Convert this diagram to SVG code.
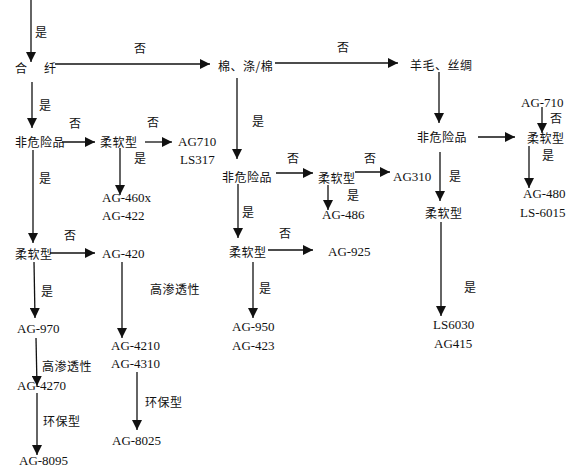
<svg xmlns="http://www.w3.org/2000/svg" width="587" height="475" viewBox="0 0 587 475">
<style>
.c{font-family:"Noto Sans CJK SC","Noto Sans CJK TC",sans-serif;font-size:12px;letter-spacing:0.5px;fill:#111}
.a{font-family:"Liberation Serif",serif;font-size:13px;fill:#111}
.l{font-family:"Noto Sans CJK SC",sans-serif;font-size:12px;fill:#111}
#edges line{stroke:#111;stroke-width:1.3;marker-end:url(#ah)}
</style>
<defs>
<marker id="ah" markerUnits="userSpaceOnUse" markerWidth="10" markerHeight="10" refX="10" refY="5" orient="auto">
<path d="M0,0 L10,5 L0,10 z" fill="#111"/>
</marker>
</defs>
<rect width="587" height="475" fill="#fff"/>
<g id="edges">
<line x1="31" y1="0" x2="31" y2="62"/>
<line x1="55" y1="64" x2="210" y2="64"/>
<line x1="275" y1="63" x2="398" y2="63"/>
<line x1="439" y1="72" x2="439" y2="123"/>
<line x1="478" y1="137" x2="515" y2="137"/>
<line x1="542" y1="107" x2="542" y2="133"/>
<line x1="529" y1="146" x2="529" y2="188"/>
<line x1="440" y1="152" x2="440" y2="201"/>
<line x1="441" y1="222" x2="441" y2="316"/>
<line x1="237" y1="78" x2="237" y2="159"/>
<line x1="276" y1="173" x2="313" y2="173"/>
<line x1="355" y1="172" x2="390" y2="172"/>
<line x1="328" y1="185" x2="328" y2="210"/>
<line x1="238" y1="184" x2="238" y2="238"/>
<line x1="268" y1="250" x2="313" y2="250"/>
<line x1="253" y1="262" x2="253" y2="318"/>
<line x1="32" y1="82" x2="32" y2="128"/>
<line x1="62" y1="142" x2="95" y2="142"/>
<line x1="145" y1="142" x2="172" y2="142"/>
<line x1="120" y1="148" x2="120" y2="195"/>
<line x1="33" y1="150" x2="33" y2="243"/>
<line x1="50" y1="253" x2="95" y2="253"/>
<line x1="122" y1="262" x2="122" y2="338"/>
<line x1="137" y1="372" x2="137" y2="430"/>
<line x1="34" y1="262" x2="35" y2="318"/>
<line x1="36" y1="338" x2="37" y2="386"/>
<line x1="37" y1="393" x2="37" y2="455"/>
</g>
<g id="labels">
<text class="l" x="35" y="37">是</text>
<text class="l" x="134" y="53">否</text>
<text class="l" x="337" y="52">否</text>
<text class="l" x="39" y="110">是</text>
<text class="l" x="69" y="128">否</text>
<text class="l" x="147" y="127">否</text>
<text class="l" x="39" y="183">是</text>
<text class="l" x="134" y="163">是</text>
<text class="l" x="64" y="240">否</text>
<text class="l" x="41" y="296">是</text>
<text class="l" x="252" y="126">是</text>
<text class="l" x="287" y="163">否</text>
<text class="l" x="364" y="163">否</text>
<text class="l" x="347" y="200">是</text>
<text class="l" x="242" y="217">是</text>
<text class="l" x="279" y="238">否</text>
<text class="l" x="259" y="293">是</text>
<text class="l" x="449" y="181">是</text>
<text class="l" x="464" y="292">是</text>
<text class="l" x="550" y="123">否</text>
<text class="l" x="542" y="160">是</text>
</g>
<g id="n-hexian"><text class="c" y="73"><tspan x="15">合</tspan><tspan x="44">纤</tspan></text></g>
<g id="n-mian"><text class="c" x="218" y="71">棉、涤/棉</text></g>
<g id="n-yangmao"><text class="c" x="410" y="70">羊毛、丝绸</text></g>
<g id="n-ffx1"><text class="c" x="15" y="147">非危险品</text></g>
<g id="n-rr1"><text class="c" x="100" y="147">柔软型</text></g>
<g id="n-ag710"><text class="a" x="178" y="146">AG710</text><text class="a" x="180" y="164">LS317</text></g>
<g id="n-ag460"><text class="a" x="102" y="202">AG-460x</text><text class="a" x="102" y="220">AG-422</text></g>
<g id="n-rr2"><text class="c" x="15" y="259">柔软型</text></g>
<g id="n-ag420"><text class="a" x="102" y="258">AG-420</text></g>
<g id="n-gst1"><text class="c" x="150" y="294">高渗透性</text></g>
<g id="n-ag4210"><text class="a" x="111" y="350">AG-4210</text><text class="a" x="111" y="368">AG-4310</text></g>
<g id="n-hb1"><text class="c" x="145" y="407">环保型</text></g>
<g id="n-ag8025"><text class="a" x="112" y="445">AG-8025</text></g>
<g id="n-ag970"><text class="a" x="17" y="333">AG-970</text></g>
<g id="n-gst2"><text class="c" x="42" y="371">高渗透性</text></g>
<g id="n-ag4270"><text class="a" x="17" y="390">AG-4270</text></g>
<g id="n-hb2"><text class="c" x="43" y="426">环保型</text></g>
<g id="n-ag8095"><text class="a" x="19" y="465">AG-8095</text></g>
<g id="n-ffx2"><text class="c" x="222" y="182">非危险品</text></g>
<g id="n-rr3"><text class="c" x="318" y="183">柔软型</text></g>
<g id="n-ag310"><text class="a" x="393" y="181">AG310</text></g>
<g id="n-ag486"><text class="a" x="322" y="219">AG-486</text></g>
<g id="n-rr4"><text class="c" x="229" y="257">柔软型</text></g>
<g id="n-ag925"><text class="a" x="328" y="256">AG-925</text></g>
<g id="n-ag950"><text class="a" x="232" y="331">AG-950</text><text class="a" x="232" y="350">AG-423</text></g>
<g id="n-ffx3"><text class="c" x="417" y="142">非危险品</text></g>
<g id="n-rr5"><text class="c" x="527" y="143">柔软型</text></g>
<g id="n-ag710b"><text class="a" x="521" y="107">AG-710</text></g>
<g id="n-ag480"><text class="a" x="523" y="198">AG-480</text><text class="a" x="520" y="217">LS-6015</text></g>
<g id="n-rr6"><text class="c" x="425" y="218">柔软型</text></g>
<g id="n-ls6030"><text class="a" x="433" y="329">LS6030</text><text class="a" x="434" y="348">AG415</text></g>
</svg>
